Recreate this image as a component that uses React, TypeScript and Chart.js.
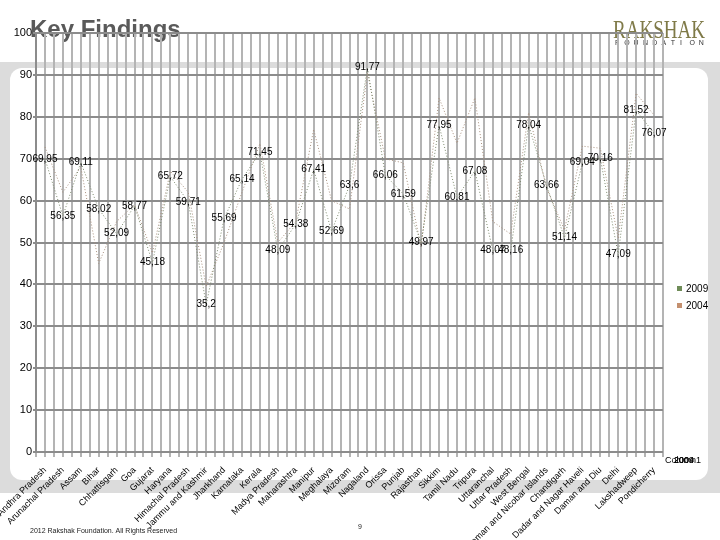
import React, { useEffect, useRef } from "react";
import { Chart, registerables } from "chart.js";

Chart.register(...registerables);

const categories = [
  "Andhra Pradesh", "Arunachal Pradesh", "Assam", "Bihar", "Chhattisgarh", "Goa",
  "Gujarat", "Haryana", "Himachal Pradesh", "Jammu and Kashmir", "Jharkhand",
  "Karnataka", "Kerala", "Madya Pradesh", "Maharashtra", "Manipur", "Meghalaya",
  "Mizoram", "Nagaland", "Orissa", "Punjab", "Rajasthan", "Sikkim", "Tamil Nadu",
  "Tripura", "Uttaranchal", "Uttar Pradesh", "West Bengal",
  "Andaman and Nicobar Islands", "Chandigarh", "Dadar and Nagar Haveli",
  "Daman and Diu", "Delhi", "Lakshadweep", "Pondicherry",
];

const values2009 = [
  69.95, 56.35, 69.11, 58.02, 52.09, 58.77, 45.18, 65.72, 59.71, 35.2, 55.69,
  65.14, 71.45, 48.09, 54.38, 67.41, 52.69, 63.6, 91.77, 66.06, 61.59, 49.97,
  77.95, 60.81, 67.08, 48.07, 48.16, 78.04, 63.66, 51.14, 69.04, 70.16, 47.09,
  81.52, 76.07,
];

const values2004 = [
  72.8, 62, 68, 45, 55, 59, 47.5, 67, 62, 39.5, 50, 62, 73.6, 50, 55, 77, 60,
  58, 90.5, 70, 69, 49, 84.5, 73.7, 84.5, 55, 52, 81, 63, 53, 73, 72.5, 51,
  85.6, 80.4,
];

const seriesNames = ["2009", "2004"];
const legendColors = ["#6f8c58", "#c4906f"];
const lineColors = ["#7d8a6e", "#a8907e"];

const yMin = 0;
const yMax = 100;
const yStep = 10;

const fmt = (v: number) => String(v).replace(".", ",");

const framePlugin = {
  id: "frame",
  beforeDraw(chart: any) {
    const ctx = chart.ctx;
    ctx.save();
    ctx.fillStyle = "#dcdcdc";
    ctx.fillRect(0, 62, 720, 431);
    ctx.fillStyle = "#ffffff";
    const x = 10, y = 68, w = 698, h = 412, r = 12;
    ctx.beginPath();
    ctx.moveTo(x + r, y);
    ctx.lineTo(x + w - r, y);
    ctx.arcTo(x + w, y, x + w, y + r, r);
    ctx.lineTo(x + w, y + h - r);
    ctx.arcTo(x + w, y + h, x + w - r, y + h, r);
    ctx.lineTo(x + r, y + h);
    ctx.arcTo(x, y + h, x, y + h - r, r);
    ctx.lineTo(x, y + r);
    ctx.arcTo(x, y, x + r, y, r);
    ctx.closePath();
    ctx.fill();
    ctx.fillStyle = "#5a5a5a";
    ctx.font = "bold 24px 'Liberation Sans', Arial, sans-serif";
    ctx.textAlign = "left";
    ctx.textBaseline = "alphabetic";
    ctx.fillText("Key Findings", 30, 37);
    ctx.fillStyle = "#7f7a48";
    ctx.font = "25px 'Liberation Serif', serif";
    ctx.fillText("RAKSHAK", 613, 38, 92);
    ctx.fillStyle = "#333333";
    ctx.font = "7px 'Liberation Sans', Arial, sans-serif";
    const word = "FOUNDATION";
    for (let i = 0; i < word.length; i++) {
      ctx.fillText(word[i], 615 + i * 9.3, 45);
    }
    ctx.restore();
  },
  afterDraw(chart: any) {
    const ctx = chart.ctx;
    ctx.save();
    ctx.fillStyle = "#000";
    ctx.textBaseline = "middle";
    ctx.textAlign = "left";
    ctx.font = "10px 'Liberation Sans', Arial, sans-serif";
    seriesNames.forEach((name, i) => {
      const cy = 289 + i * 17;
      ctx.fillStyle = legendColors[i];
      ctx.fillRect(677, cy - 3, 5, 5);
      ctx.fillStyle = "#000";
      ctx.fillText(name, 686, cy);
    });
    ctx.font = "9px 'Liberation Sans', Arial, sans-serif";
    ctx.fillText("Column1", 665, 461);
    seriesNames.forEach((name) => ctx.fillText(name, 674, 461));
    ctx.font = "7px 'Liberation Sans', Arial, sans-serif";
    ctx.textBaseline = "alphabetic";
    ctx.fillStyle = "#222";
    ctx.fillText("2012 Rakshak Foundation. All Rights Reserved", 30, 533);
    ctx.fillText("9", 358, 529);
    ctx.restore();
  },
};

const labelPlugin = {
  id: "valueLabels",
  afterDatasetsDraw(chart: any) {
    const ctx = chart.ctx;
    const meta = chart.getDatasetMeta(0);
    ctx.save();
    ctx.fillStyle = "#000";
    ctx.font = "10px 'Liberation Sans', Arial, sans-serif";
    ctx.textAlign = "center";
    ctx.textBaseline = "middle";
    meta.data.forEach((pt: any, i: number) => {
      ctx.fillText(fmt(values2009[i]), pt.x, pt.y);
    });
    ctx.restore();
  },
};

export default function App() {
  const ref = useRef<HTMLCanvasElement>(null);
  useEffect(() => {
    if (!ref.current) return;
    const chart = new Chart(ref.current, {
      type: "line",
      data: {
        labels: categories,
        datasets: seriesNames.map((name, i) => ({
          label: name,
          data: i === 0 ? values2009 : values2004,
          xAxisID: "x",
          yAxisID: "y",
          borderColor: lineColors[i],
          backgroundColor: legendColors[i],
          borderWidth: 1,
          borderDash: [1, 2],
          pointRadius: 0,
          tension: 0,
          fill: false,
        })),
      },
      options: {
        responsive: false,
        animation: false,
        devicePixelRatio: 1,
        layout: { padding: { left: 0, top: 33, right: 57, bottom: 0 } },
        plugins: { legend: { display: false }, tooltip: { enabled: false } },
        scales: {
          x: {
            type: "category",
            position: "bottom",
            weight: 1,
            offset: true,
            grid: { display: false },
            border: { display: false },
            ticks: {
              autoSkip: false,
              maxRotation: 45,
              minRotation: 45,
              padding: 0,
              color: "#000",
              font: { size: 9, family: "'Liberation Sans', Arial, sans-serif" },
            },
            afterFit: (s: any) => {
              s.height = 83;
              s.paddingLeft = 0; s.paddingRight = 0; s.paddingTop = 0; s.paddingBottom = 0;
            },
          },
          xg: {
            type: "linear",
            position: "bottom",
            weight: 0,
            min: 0,
            max: categories.length * 2,
            ticks: { display: false, stepSize: 1, autoSkip: false },
            grid: { color: "#b4b4b4", lineWidth: 2, drawTicks: true, tickLength: 5 },
            border: { display: false },
            afterFit: (s: any) => {
              s.height = 5;
              s.paddingLeft = 0; s.paddingRight = 0; s.paddingTop = 0; s.paddingBottom = 0;
            },
          },
          y: {
            min: yMin,
            max: yMax,
            ticks: {
              stepSize: yStep,
              padding: 1,
              color: "#000",
              font: { size: 11, family: "'Liberation Sans', Arial, sans-serif" },
            },
            grid: { color: "#8c8c8c", lineWidth: 2, tickLength: 3 },
            border: { color: "#8c8c8c", width: 2 },
            afterFit: (s: any) => {
              s.width = 36;
              s.paddingTop = 0; s.paddingBottom = 0;
            },
          },
        },
      },
      plugins: [framePlugin, labelPlugin],
    });
    return () => chart.destroy();
  }, []);
  return (
    <div style={{ position: "fixed", left: 0, top: 0, width: 720, height: 540 }}>
      <canvas ref={ref} width={720} height={540} />
    </div>
  );
}
